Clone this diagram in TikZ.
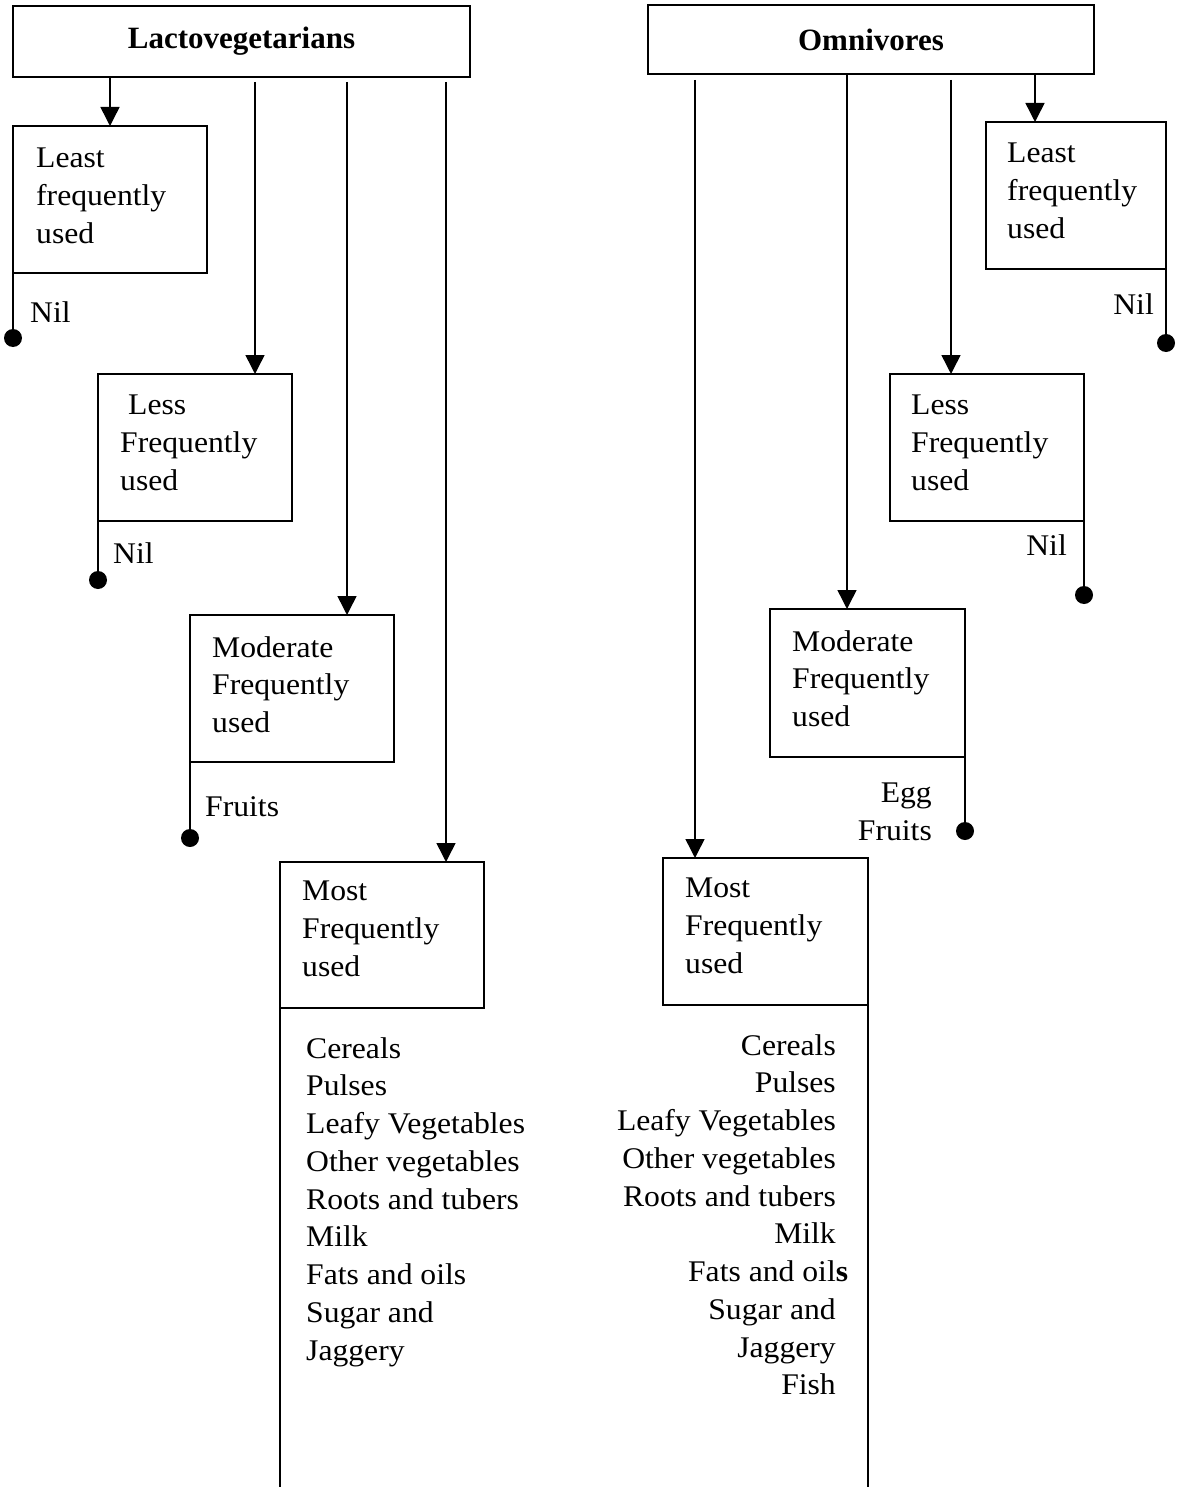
\documentclass[tikz,border=0pt]{standalone}
\usepackage{fontspec}
\setmainfont{Liberation Serif}
\newfontfamily\bodyfont{Liberation Serif}[FakeStretch=1.055]
\usetikzlibrary{arrows.meta}
\begin{document}
\begin{tikzpicture}[x=1pt,y=-1pt,
  box/.style={draw, line width=2pt, inner sep=0pt, outer sep=0pt, anchor=north west},
  titlebox/.style={box, font=\bfseries\fontsize{31}{37}\selectfont},
  txt/.style={inner sep=0pt, font=\bodyfont\fontsize{30}{37.75}\selectfont, align=left, anchor=north west},
  rtxt/.style={txt, align=right, anchor=north east},
  conn/.style={line width=1.5pt},
  arr/.style={conn, -{Triangle[length=19pt,width=19pt]}},
  dotn/.style={circle, fill, inner sep=0pt, outer sep=0pt, minimum size=18pt},
]
\fill[white] (0,0) rectangle (1180,1487);
\useasboundingbox (0,0) rectangle (1180,1487);

% ---------- Lactovegetarians ----------
\node[titlebox, minimum width=457pt, minimum height=71pt] (Lt) at (13,6) {Lactovegetarians};
\node[box, minimum width=194pt, minimum height=147pt] (Lleast) at (13,126) {};
\node[box, minimum width=194pt, minimum height=147pt] (Lless) at (98,374) {};
\node[box, minimum width=204pt, minimum height=147pt] (Lmod) at (190,615) {};
\node[box, minimum width=204pt, minimum height=146pt] (Lmost) at (280,862) {};

\node[txt] (LleastT) at (36,148) {Least\\frequently\\used};
\node[txt] (LlessT) at (120,395) {\hspace*{8pt}Less\\Frequently\\used};
\node[txt] (LmodT) at (212,636) {Moderate\\Frequently\\used};
\node[txt] (LmostT) at (302,881) {Most\\Frequently\\used};
\node[txt] (Llist) at (306,1037) {Cereals\\Pulses\\Leafy Vegetables\\Other vegetables\\Roots and tubers\\Milk\\Fats and oils\\Sugar and\\Jaggery};

\node[txt] (Lnil1) at (30,301) {Nil};
\node[txt] (Lnil2) at (113,542) {Nil};
\node[txt] (Lfru) at (205,796) {Fruits};

\coordinate (a2) at (255,82);
\coordinate (a3) at (347,82);
\coordinate (a4) at (446,82);
\draw[arr] (Lt.south -| Lleast.north) -- (Lleast.north);
\draw[arr] (a2) -- (a2 |- Lless.north);
\draw[arr] (a3) -- (a3 |- Lmod.north);
\draw[arr] (a4) -- (a4 |- Lmost.north);

\node[dotn] (Ld1) at (13,338) {};
\node[dotn] (Ld2) at (98,580) {};
\node[dotn] (Ld3) at (190,838) {};
\draw[conn] (Lleast.south west) -- (Ld1.center);
\draw[conn] (Lless.south west) -- (Ld2.center);
\draw[conn] (Lmod.south west) -- (Ld3.center);
\coordinate (Lend) at (280,1487);
\draw[conn] (Lmost.south west) -- (Lend);

% ---------- Omnivores ----------
\node[titlebox, minimum width=446pt, minimum height=69pt] (Rt) at (648,5) {Omnivores};
\node[box, minimum width=180pt, minimum height=147pt] (Rleast) at (986,122) {};
\node[box, minimum width=194pt, minimum height=147pt] (Rless) at (890,374) {};
\node[box, minimum width=195pt, minimum height=148pt] (Rmod) at (770,609) {};
\node[box, minimum width=205pt, minimum height=147pt] (Rmost) at (663,858) {};

\node[txt] (RleastT) at (1007,143) {Least\\frequently\\used};
\node[txt] (RlessT) at (911,395) {Less\\Frequently\\used};
\node[txt] (RmodT) at (792,630) {Moderate\\Frequently\\used};
\node[txt] (RmostT) at (685,878) {Most\\Frequently\\used};
\node[rtxt] (Rlist) at (836,1034) {Cereals\\Pulses\\Leafy Vegetables\\Other vegetables\\Roots and tubers\\Milk\\Fats and oil\rlap{\textbf{s}}\\Sugar and\\Jaggery\\Fish};

\node[rtxt] (Rnil1) at (1154,293) {Nil};
\node[rtxt] (Rnil2) at (1067,534) {Nil};
\node[rtxt] (RegF) at (932,783) {Egg\\Fruits};

\coordinate (b1) at (695,80);
\coordinate (b2) at (847,74);
\coordinate (b3) at (951,80);
\coordinate (b4) at (1035,74);
\draw[arr] (b1) -- (b1 |- Rmost.north);
\draw[arr] (b2) -- (b2 |- Rmod.north);
\draw[arr] (b3) -- (b3 |- Rless.north);
\draw[arr] (b4) -- (b4 |- Rleast.north);

\node[dotn] (Rd1) at (1166,343) {};
\node[dotn] (Rd2) at (1084,595) {};
\node[dotn] (Rd3) at (965,831) {};
\draw[conn] (Rleast.south east) -- (Rd1.center);
\draw[conn] (Rless.south east) -- (Rd2.center);
\draw[conn] (Rmod.south east) -- (Rd3.center);
\coordinate (Rend) at (868,1487);
\draw[conn] (Rmost.south east) -- (Rend);
\end{tikzpicture}
\end{document}
